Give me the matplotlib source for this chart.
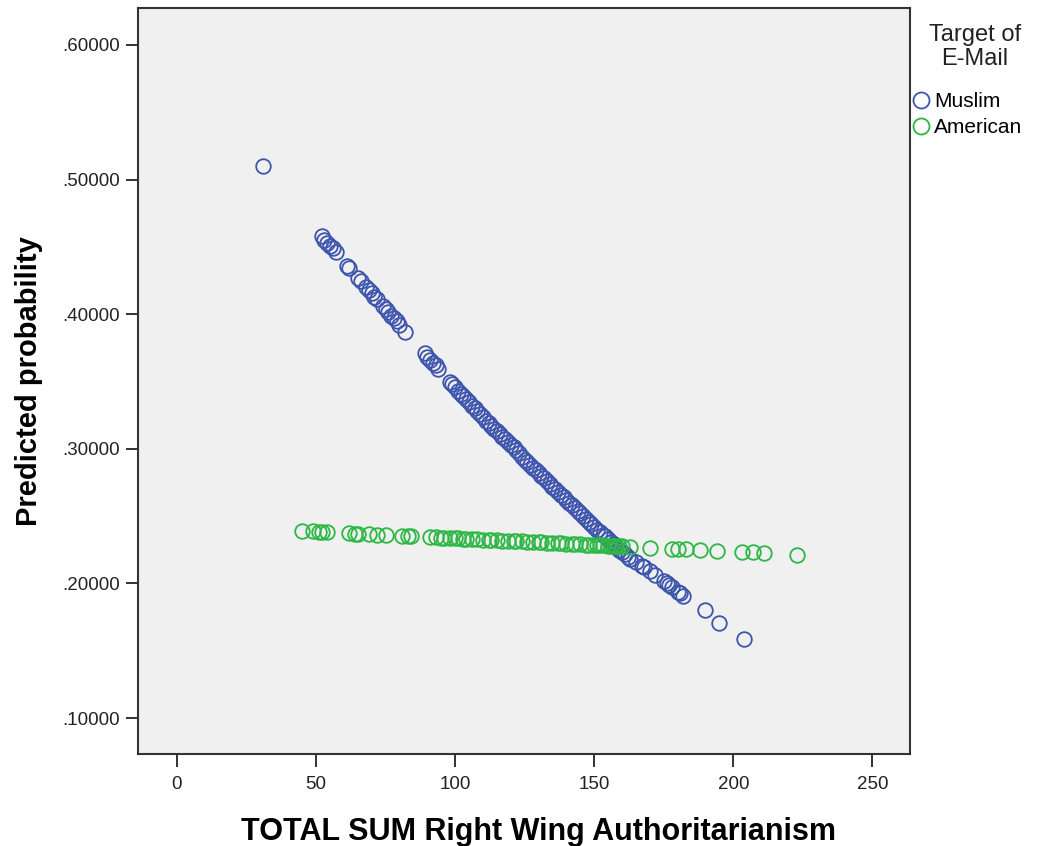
import matplotlib
matplotlib.use("Agg")
import matplotlib.pyplot as plt
from matplotlib.ticker import FuncFormatter

plt.rcParams['font.family'] = ['Liberation Sans', 'DejaVu Sans']

# Predicted probabilities by RWA score, Muslim target
muslim_rwa = [31, 52, 53, 54, 55, 56, 57, 61, 62, 65, 66, 68, 69, 70, 71, 72, 74, 75, 76,
              77, 78, 79, 80, 82, 89, 90, 91, 92, 93, 94, 98, 99, 100, 101, 102, 103, 104,
              105, 106, 107, 108, 109, 110, 111, 112, 113, 114, 115, 116, 117, 118, 119,
              120, 121, 122, 123, 124, 125, 126, 127, 128, 129, 130, 131, 132, 133, 134,
              135, 136, 137, 138, 139, 140, 141, 142, 143, 144, 145, 146, 147, 148, 149,
              150, 151, 152, 153, 154, 155, 156, 157, 158, 159, 160, 161, 162, 163, 165,
              167, 168, 170, 172, 175, 176, 177, 178, 180, 181, 182, 190, 195, 204]
muslim_prob = [.510, .458, .455, .453, .451, .449, .446, .436, .434, .427, .425, .420, .418,
               .416, .413, .411, .406, .404, .402, .399, .397, .395, .392, .387, .371, .368,
               .366, .364, .362, .359, .350, .348, .346, .343, .341, .339, .337, .335, .332,
               .330, .328, .326, .324, .321, .319, .317, .315, .313, .311, .309, .307, .305,
               .303, .301, .299, .297, .294, .292, .290, .288, .286, .284, .282, .280, .278,
               .276, .274, .272, .270, .268, .266, .264, .262, .260, .258, .256, .254, .252,
               .250, .248, .246, .244, .242, .240, .238, .236, .235, .233, .231, .229, .227,
               .225, .223, .222, .220, .218, .216, .213, .212, .209, .206, .202, .200, .199,
               .197, .194, .193, .191, .180, .171, .159]

# Predicted probabilities by RWA score, American target
american_rwa = [45, 49, 51, 52, 54, 62, 64, 65, 69, 72, 75, 81, 83, 84, 91, 93, 95, 96, 98,
                100, 101, 103, 104, 106, 108, 110, 112, 113, 115, 117, 119, 121, 122, 124,
                126, 128, 130, 131, 133, 135, 137, 138, 140, 142, 143, 145, 147, 148, 150,
                151, 152, 153, 155, 156, 157, 158, 159, 160, 163, 170, 178, 180, 183, 188,
                194, 203, 207, 211, 223]
american_prob = [.2390, .2386, .2384, .2383, .2381, .2373, .2371, .2370, .2366, .2363,
                 .2360, .2354, .2352, .2351, .2344, .2342, .2340, .2339, .2337, .2335,
                 .2334, .2332, .2331, .2329, .2327, .2325, .2323, .2322, .2320, .2318,
                 .2316, .2315, .2314, .2312, .2310, .2308, .2306, .2305, .2303, .2301,
                 .2299, .2298, .2296, .2294, .2293, .2291, .2289, .2288, .2286, .2285,
                 .2284, .2283, .2281, .2280, .2279, .2278, .2277, .2276, .2273, .2266,
                 .2259, .2257, .2254, .2249, .2243, .2234, .2230, .2226, .2215]

x_ticks = [0, 50, 100, 150, 200, 250]
y_ticks = [.1, .2, .3, .4, .5, .6]

BLUE = '#3d55ad'
GREEN = '#2db745'

fig = plt.figure(figsize=(10.37, 8.46), dpi=100)
ax = fig.add_axes([0.1331, 0.1087, 0.7449, 0.8818])
ax.set_facecolor('#f0f0f0')

mk = dict(linestyle='none', marker='o', markersize=10.5, markerfacecolor='none',
          markeredgewidth=1.3)
l_m, = ax.plot(muslim_rwa, muslim_prob, markeredgecolor=BLUE, label='Muslim', **mk)
l_a, = ax.plot(american_rwa, american_prob, markeredgecolor=GREEN, label='American', **mk)

ax.set_xlim(-14.0, 263.7)
ax.set_ylim(0.0733, 0.6274)
ax.set_xticks(x_ticks)
ax.set_yticks(y_ticks)
ax.yaxis.set_major_formatter(FuncFormatter(lambda v, p: ('%.5f' % v)[1:]))
ax.tick_params(direction='out', length=9, width=1.4, labelsize=13.5, pad=4,
               color='#333333', labelcolor='#222222')
ax.tick_params(axis='x', pad=7)

for s in ax.spines.values():
    s.set_linewidth(1.5)
    s.set_color('#333333')

ax.set_xlabel('TOTAL SUM Right Wing Authoritarianism', fontsize=22, fontweight='bold')
ax.xaxis.set_label_coords(0.518, -0.085)
ax.set_ylabel('Predicted probability', fontsize=21, fontweight='bold', labelpad=14)

# Legend: centred title above the marker entries
fig.text(975 / 1037, 1 - 47 / 846, 'Target of\nE-Mail', ha='center', va='center',
         fontsize=17, linespacing=1.1, color='#222222')
fig.legend(handles=[l_m, l_a], loc='upper left', bbox_to_anchor=(0.878, 0.891),
           frameon=False, fontsize=15, handletextpad=0.15, handlelength=1.0,
           labelspacing=0.32, borderaxespad=0, borderpad=0, markerscale=1.1)

fig.savefig('out.png', dpi=100)
